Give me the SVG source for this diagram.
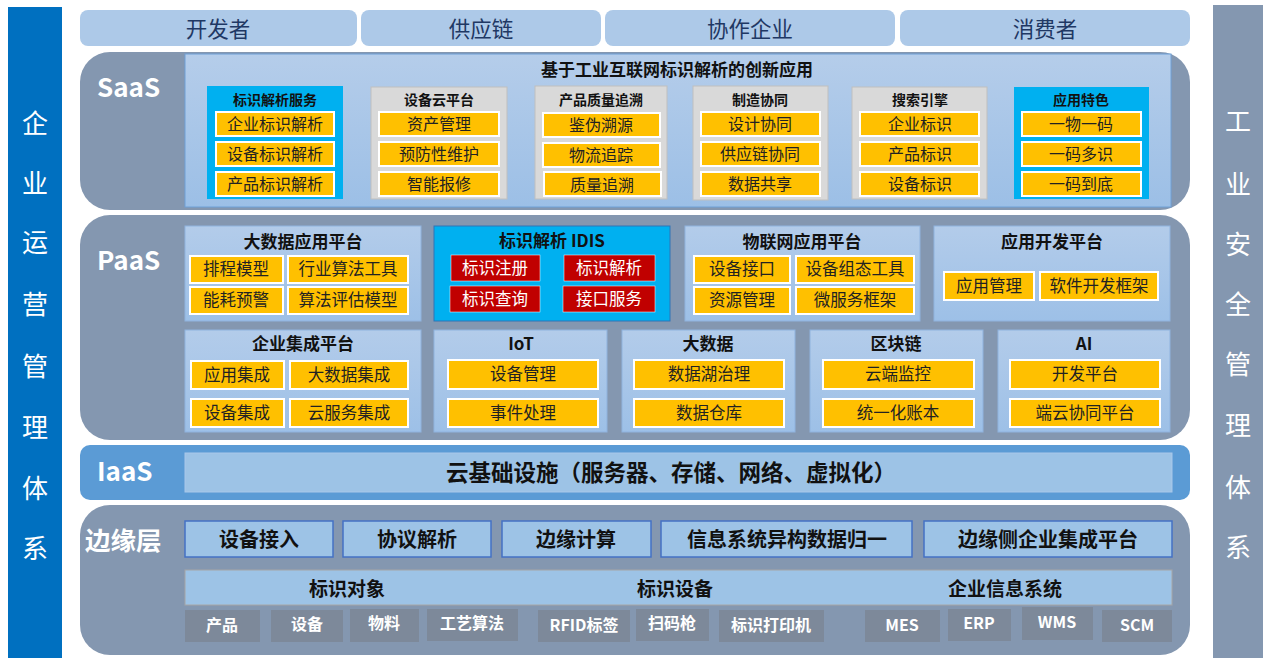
<svg xmlns="http://www.w3.org/2000/svg" width="1269" height="664" viewBox="0 0 1269 664">
<defs>
<linearGradient id="gPanel" x1="0" y1="0" x2="0" y2="1"><stop offset="0" stop-color="#B5CDEA"/><stop offset="1" stop-color="#9CBFE6"/></linearGradient>
<linearGradient id="gBox" x1="0" y1="0" x2="0" y2="1"><stop offset="0" stop-color="#B3CCEA"/><stop offset="1" stop-color="#9DC0E7"/></linearGradient>
<style>
text{font-family:"Noto Sans CJK SC","Microsoft YaHei",sans-serif;text-anchor:middle;dominant-baseline:central}
.side{fill:#fff;font-size:26px}
.hdr{fill:#ADC9E8}
.hdrt{fill:#1F3864;font-size:21.5px}
.layer{fill:#8497B0}
.lbl{fill:#fff;font-size:26px;font-weight:bold;text-anchor:start;dominant-baseline:auto}
.cyan{fill:#00B0F0}
.gcard{fill:#D9D9D9;stroke:#BFBFBF;stroke-width:1}
.ctitle{fill:#111;font-size:14px;font-weight:bold}
.yel{fill:#FFC000;stroke:#fff;stroke-width:2}
.it{fill:#222;font-size:16px}
.pbox{fill:url(#gBox);stroke:#8FB3DE;stroke-width:1}
.ptitle{fill:#111;font-size:17px;font-weight:bold}
.pit{fill:#222;font-size:16.5px}
.red{fill:#C00000;stroke:#fff;stroke-width:0.5}
.rt{fill:#fff;font-size:16.5px}
.ebox{fill:#9DC3E6;stroke:#4472C4;stroke-width:1.5}
.et{fill:#111;font-size:20px;font-weight:bold}
.sbox{fill:#7D899A}
.st{fill:#fff;font-size:16px;font-weight:bold}
</style>
</defs>
<rect width="1269" height="664" fill="#fff"/>

<g id="left-bar">
<rect x="8" y="7" width="54" height="651" fill="#0070C0"/>
<text class="side" x="35" y="121">企</text>
<text class="side" x="35" y="181">业</text>
<text class="side" x="35" y="240">运</text>
<text class="side" x="35" y="302">营</text>
<text class="side" x="35" y="364">管</text>
<text class="side" x="35" y="425">理</text>
<text class="side" x="35" y="486">体</text>
<text class="side" x="35" y="546">系</text>
</g>

<g id="right-bar">
<rect x="1213" y="5" width="50" height="653" fill="#8497B0"/>
<text class="side" x="1238" y="119">工</text>
<text class="side" x="1238" y="182">业</text>
<text class="side" x="1238" y="242">安</text>
<text class="side" x="1238" y="302">全</text>
<text class="side" x="1238" y="362">管</text>
<text class="side" x="1238" y="423">理</text>
<text class="side" x="1238" y="485">体</text>
<text class="side" x="1238" y="545">系</text>
</g>

<g id="header">
<rect class="hdr" x="80" y="10" width="277" height="36" rx="8"/>
<text class="hdrt" x="218" y="27">开发者</text>
<rect class="hdr" x="361" y="10" width="240" height="36" rx="8"/>
<text class="hdrt" x="481" y="27">供应链</text>
<rect class="hdr" x="605" y="10" width="290" height="36" rx="8"/>
<text class="hdrt" x="750" y="27">协作企业</text>
<rect class="hdr" x="900" y="10" width="290" height="36" rx="8"/>
<text class="hdrt" x="1045" y="27">消费者</text>
</g>

<g id="saas">
<rect class="layer" x="80" y="52" width="1110" height="158" rx="30"/>
<rect x="185" y="54" width="986" height="153" fill="url(#gPanel)" stroke="#6FA0D6" stroke-width="1"/>
<text class="lbl" x="97" y="97">SaaS</text>
<text x="677" y="68" style="font-size:17px;font-weight:bold;fill:#111">基于工业互联网标识解析的创新应用</text>
</g>

<g id="saas-card-1">
<rect class="cyan" x="207" y="86" width="136" height="113"/>
<text class="ctitle" x="275" y="99">标识解析服务</text>
<rect class="yel" x="216" y="112" width="118" height="24"/><text class="it" x="275" y="123">企业标识解析</text>
<rect class="yel" x="216" y="142" width="118" height="24"/><text class="it" x="275" y="153">设备标识解析</text>
<rect class="yel" x="216" y="172" width="118" height="24"/><text class="it" x="275" y="183">产品标识解析</text>
</g>
<g id="saas-card-2">
<rect class="gcard" x="371" y="87" width="136" height="112"/>
<text class="ctitle" x="439" y="99">设备云平台</text>
<rect class="yel" x="379" y="112" width="120" height="24"/><text class="it" x="439" y="123">资产管理</text>
<rect class="yel" x="379" y="142" width="120" height="24"/><text class="it" x="439" y="153">预防性维护</text>
<rect class="yel" x="379" y="172" width="120" height="24"/><text class="it" x="439" y="183">智能报修</text>
</g>
<g id="saas-card-3">
<rect class="gcard" x="535" y="86" width="132" height="113"/>
<text class="ctitle" x="601" y="99">产品质量追溯</text>
<rect class="yel" x="543" y="113" width="117" height="24"/><text class="it" x="601" y="124">鉴伪溯源</text>
<rect class="yel" x="543" y="143" width="117" height="24"/><text class="it" x="601" y="154">物流追踪</text>
<rect class="yel" x="544" y="172" width="117" height="24"/><text class="it" x="602" y="184">质量追溯</text>
</g>
<g id="saas-card-4">
<rect class="gcard" x="693" y="86" width="135" height="114"/>
<text class="ctitle" x="760" y="99">制造协同</text>
<rect class="yel" x="701" y="112" width="119" height="24"/><text class="it" x="760" y="123">设计协同</text>
<rect class="yel" x="701" y="142" width="119" height="24"/><text class="it" x="760" y="153">供应链协同</text>
<rect class="yel" x="701" y="172" width="119" height="24"/><text class="it" x="760" y="183">数据共享</text>
</g>
<g id="saas-card-5">
<rect class="gcard" x="852" y="87" width="135" height="112"/>
<text class="ctitle" x="920" y="99">搜索引擎</text>
<rect class="yel" x="860" y="112" width="119" height="24"/><text class="it" x="920" y="123">企业标识</text>
<rect class="yel" x="860" y="142" width="119" height="24"/><text class="it" x="920" y="153">产品标识</text>
<rect class="yel" x="860" y="172" width="119" height="24"/><text class="it" x="920" y="183">设备标识</text>
</g>
<g id="saas-card-6">
<rect class="cyan" x="1014" y="87" width="135" height="112"/>
<text class="ctitle" x="1081" y="99">应用特色</text>
<rect class="yel" x="1022" y="112" width="119" height="24"/><text class="it" x="1081" y="123">一物一码</text>
<rect class="yel" x="1022" y="142" width="119" height="24"/><text class="it" x="1081" y="153">一码多识</text>
<rect class="yel" x="1022" y="172" width="119" height="24"/><text class="it" x="1081" y="183">一码到底</text>
</g>

<g id="paas">
<rect class="layer" x="80" y="215" width="1110" height="225" rx="30"/>
<text class="lbl" x="97" y="270">PaaS</text>
</g>

<g id="paas-bigdata-app">
<rect class="pbox" x="185" y="226" width="236" height="95"/>
<text class="ptitle" x="303" y="240">大数据应用平台</text>
<rect class="yel" x="190" y="256" width="93" height="27"/><text class="pit" x="236" y="268">排程模型</text>
<rect class="yel" x="288" y="256" width="120" height="27"/><text class="pit" x="348" y="268">行业算法工具</text>
<rect class="yel" x="190" y="287" width="93" height="27"/><text class="pit" x="236" y="299">能耗预警</text>
<rect class="yel" x="288" y="287" width="120" height="27"/><text class="pit" x="348" y="299">算法评估模型</text>
</g>
<g id="paas-idis">
<rect x="434" y="226" width="236" height="95" fill="#00B0F0" stroke="#2E75B6" stroke-width="1"/>
<text x="552" y="239" style="font-size:17px;font-weight:bold;fill:#111">标识解析 IDIS</text>
<rect class="red" x="451" y="255" width="89" height="26"/><text class="rt" x="495" y="267">标识注册</text>
<rect class="red" x="564" y="255" width="91" height="26"/><text class="rt" x="609" y="267">标识解析</text>
<rect class="red" x="450" y="286" width="90" height="26"/><text class="rt" x="495" y="298">标识查询</text>
<rect class="red" x="563" y="286" width="92" height="26"/><text class="rt" x="609" y="298">接口服务</text>
</g>
<g id="paas-iot-app">
<rect class="pbox" x="685" y="226" width="235" height="95"/>
<text class="ptitle" x="802" y="240">物联网应用平台</text>
<rect class="yel" x="694" y="256" width="96" height="27"/><text class="pit" x="742" y="268">设备接口</text>
<rect class="yel" x="796" y="256" width="118" height="27"/><text class="pit" x="855" y="268">设备组态工具</text>
<rect class="yel" x="694" y="287" width="96" height="27"/><text class="pit" x="742" y="299">资源管理</text>
<rect class="yel" x="796" y="287" width="118" height="27"/><text class="pit" x="855" y="299">微服务框架</text>
</g>
<g id="paas-appdev">
<rect class="pbox" x="934" y="226" width="236" height="95"/>
<text class="ptitle" x="1052" y="240">应用开发平台</text>
<rect class="yel" x="944" y="272" width="90" height="28"/><text class="pit" x="989" y="285">应用管理</text>
<rect class="yel" x="1040" y="272" width="118" height="28"/><text class="pit" x="1099" y="285">软件开发框架</text>
</g>

<g id="paas-enterprise">
<rect class="pbox" x="185" y="330" width="236" height="102"/>
<text class="ptitle" x="303" y="342">企业集成平台</text>
<rect class="yel" x="191" y="361" width="93" height="28"/><text class="pit" x="237" y="374">应用集成</text>
<rect class="yel" x="290" y="361" width="118" height="28"/><text class="pit" x="349" y="374">大数据集成</text>
<rect class="yel" x="191" y="399" width="93" height="28"/><text class="pit" x="237" y="412">设备集成</text>
<rect class="yel" x="290" y="399" width="118" height="28"/><text class="pit" x="349" y="412">云服务集成</text>
</g>
<g id="paas-iot">
<rect class="pbox" x="434" y="330" width="173" height="102"/>
<text class="ptitle" x="521" y="342">IoT</text>
<rect class="yel" x="448" y="360" width="150" height="29"/><text class="pit" x="523" y="373">设备管理</text>
<rect class="yel" x="448" y="399" width="150" height="28"/><text class="pit" x="523" y="412">事件处理</text>
</g>
<g id="paas-bigdata">
<rect class="pbox" x="622" y="330" width="173" height="102"/>
<text class="ptitle" x="708" y="342">大数据</text>
<rect class="yel" x="634" y="360" width="150" height="29"/><text class="pit" x="709" y="373">数据湖治理</text>
<rect class="yel" x="634" y="399" width="150" height="28"/><text class="pit" x="709" y="412">数据仓库</text>
</g>
<g id="paas-blockchain">
<rect class="pbox" x="810" y="330" width="173" height="102"/>
<text class="ptitle" x="896" y="342">区块链</text>
<rect class="yel" x="823" y="360" width="151" height="29"/><text class="pit" x="898" y="373">云端监控</text>
<rect class="yel" x="823" y="399" width="151" height="28"/><text class="pit" x="898" y="412">统一化账本</text>
</g>
<g id="paas-ai">
<rect class="pbox" x="998" y="330" width="172" height="102"/>
<text class="ptitle" x="1084" y="342">AI</text>
<rect class="yel" x="1010" y="360" width="150" height="29"/><text class="pit" x="1085" y="373">开发平台</text>
<rect class="yel" x="1010" y="399" width="150" height="28"/><text class="pit" x="1085" y="412">端云协同平台</text>
</g>

<g id="iaas">
<rect x="80" y="445" width="1110" height="55" rx="10" fill="#5B9BD5"/>
<text class="lbl" x="97" y="481">IaaS</text>
<rect x="185" y="453" width="987" height="39" fill="#9DC3E6" stroke="#A9C8EA" stroke-width="1"/>
<text x="671" y="471" style="font-size:22.5px;font-weight:bold;fill:#111">云基础设施（服务器、存储、网络、虚拟化）</text>
</g>

<g id="edge">
<rect class="layer" x="80" y="505" width="1110" height="150" rx="30"/>
<text class="lbl" x="85" y="550" style="font-size:25.5px">边缘层</text>
</g>
<g id="edge-row1">
<rect class="ebox" x="185" y="521" width="148" height="36"/><text class="et" x="259" y="538">设备接入</text>
<rect class="ebox" x="343" y="521" width="148" height="36"/><text class="et" x="417" y="538">协议解析</text>
<rect class="ebox" x="502" y="521" width="149" height="36"/><text class="et" x="576" y="538">边缘计算</text>
<rect class="ebox" x="661" y="521" width="251" height="36"/><text class="et" x="787" y="538">信息系统异构数据归一</text>
<rect class="ebox" x="924" y="521" width="248" height="36"/><text class="et" x="1048" y="538">边缘侧企业集成平台</text>
</g>
<g id="edge-row2">
<rect x="185" y="570" width="987" height="35" fill="#9DC3E6" stroke="#A6A6A6" stroke-width="1"/>
<text class="et" x="347" y="587" style="font-size:19px">标识对象</text>
<text class="et" x="675" y="587" style="font-size:19px">标识设备</text>
<text class="et" x="1005" y="587" style="font-size:19px">企业信息系统</text>
</g>
<g id="edge-row3">
<rect class="sbox" x="185" y="610" width="75" height="32"/><text class="st" x="222" y="624">产品</text>
<rect class="sbox" x="271" y="610" width="72" height="32"/><text class="st" x="307" y="623">设备</text>
<rect class="sbox" x="350" y="609" width="69" height="33"/><text class="st" x="384" y="622">物料</text>
<rect class="sbox" x="427" y="609" width="91" height="32"/><text class="st" x="472" y="622">工艺算法</text>
<rect class="sbox" x="538" y="610" width="92" height="32"/><text class="st" x="584" y="624">RFID标签</text>
<rect class="sbox" x="636" y="609" width="73" height="32"/><text class="st" x="672" y="622">扫码枪</text>
<rect class="sbox" x="719" y="610" width="105" height="32"/><text class="st" x="771" y="624">标识打印机</text>
<rect class="sbox" x="865" y="610" width="75" height="32"/><text class="st" x="902" y="624">MES</text>
<rect class="sbox" x="948" y="609" width="63" height="32"/><text class="st" x="979" y="622">ERP</text>
<rect class="sbox" x="1022" y="607" width="71" height="33"/><text class="st" x="1057" y="621">WMS</text>
<rect class="sbox" x="1102" y="610" width="70" height="32"/><text class="st" x="1137" y="624">SCM</text>
</g>

<g id="connectors"/>
</svg>
